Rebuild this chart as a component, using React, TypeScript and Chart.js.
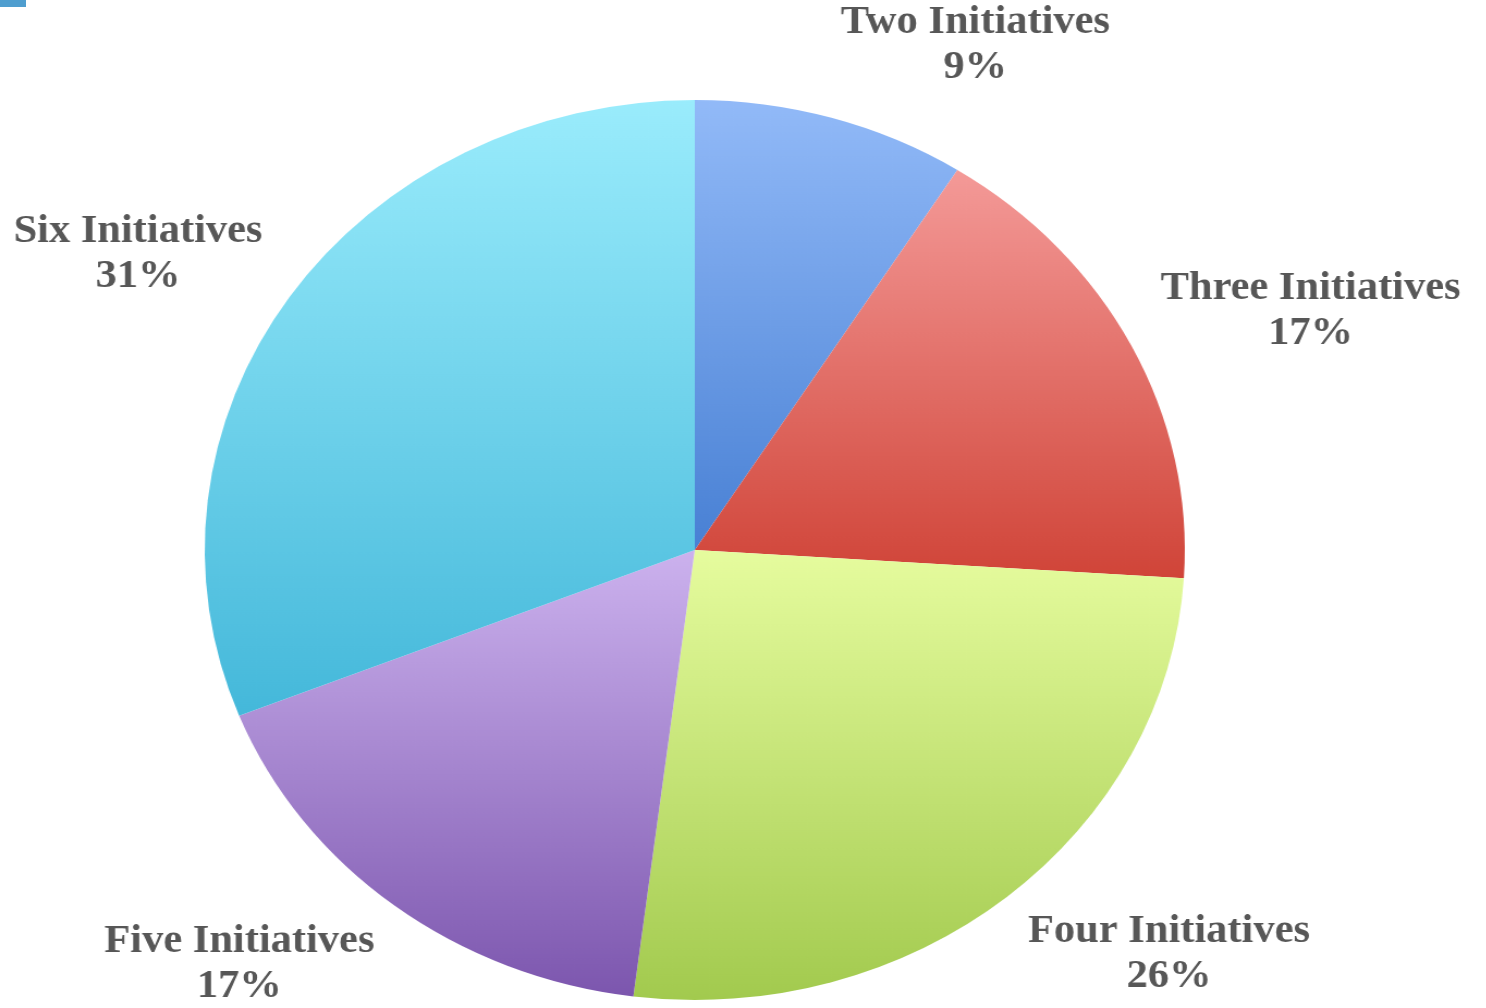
import React, { useEffect, useRef } from 'react';
import { Chart, registerables } from 'chart.js';

Chart.register(...registerables);

const categories = ['Two Initiatives', 'Three Initiatives', 'Four Initiatives', 'Five Initiatives', 'Six Initiatives'];
const shares = [9, 17, 26, 17, 31];
const percentLabels = ['9%', '17%', '26%', '17%', '31%'];
const topColors = ['#92baf8', '#f49a98', '#e6fc9e', '#ccb2ee', '#9aecfc'];
const bottomColors = ['#4880d4', '#d04438', '#a2ca4e', '#7c56ae', '#44b8da'];

const CANVAS_W = 1365;
const CANVAS_H = 1008;
const STRETCH_X = 1.089;

function sliceGradient(ctx: any) {
  const chart = ctx.chart;
  const area = chart.chartArea;
  const i = ctx.dataIndex;
  if (!area || i === undefined) return topColors[i ?? 0];
  const cx = (area.left + area.right) / 2;
  const cy = (area.top + area.bottom) / 2;
  const r = Math.min(area.right - area.left, area.bottom - area.top) / 2;
  const total = shares.reduce((a, b) => a + b, 0);
  let cum = 0;
  for (let k = 0; k < i; k++) cum += shares[k];
  const a0 = -Math.PI / 2 + (cum / total) * Math.PI * 2;
  const a1 = a0 + (shares[i] / total) * Math.PI * 2;
  let minY = cy;
  let maxY = cy;
  const steps = 60;
  for (let s = 0; s <= steps; s++) {
    const a = a0 + ((a1 - a0) * s) / steps;
    const y = cy + r * Math.sin(a);
    if (y < minY) minY = y;
    if (y > maxY) maxY = y;
  }
  const g = chart.ctx.createLinearGradient(0, minY, 0, maxY);
  g.addColorStop(0, topColors[i]);
  g.addColorStop(1, bottomColors[i]);
  return g;
}

const outsideLabels = {
  id: 'outsideLabels',
  afterDatasetsDraw(chart: any) {
    const ctx = chart.ctx;
    const meta = chart.getDatasetMeta(0);
    const pad = 30;
    const lineH = 45;
    ctx.save();
    ctx.font = 'bold 39px "Liberation Serif", "Times New Roman", serif';
    ctx.fillStyle = '#575757';
    ctx.textAlign = 'center';
    ctx.textBaseline = 'middle';
    meta.data.forEach((arc: any, i: number) => {
      const p = arc.getProps(['x', 'y', 'startAngle', 'endAngle', 'outerRadius'], true);
      const mid = (p.startAngle + p.endAngle) / 2;
      const dx = Math.cos(mid);
      const dy = Math.sin(mid);
      const ax = p.x + (p.outerRadius + pad) * dx;
      const ay = p.y + (p.outerRadius + pad) * dy;
      const lines = [categories[i], percentLabels[i]];
      const w = Math.max(...lines.map((t) => ctx.measureText(t).width));
      const h = lineH * lines.length;
      const left = dx >= 0 ? ax : ax - w;
      const centerY = ay + (dy * h) / 2;
      const top = centerY - h / 2;
      lines.forEach((t, j) => {
        ctx.fillText(t, left + w / 2, top + lineH / 2 + j * lineH);
      });
    });
    ctx.restore();
  },
};

export default function App() {
  const canvasRef = useRef<HTMLCanvasElement | null>(null);

  useEffect(() => {
    document.body.style.margin = '0';
    document.body.style.overflow = 'hidden';
    const canvas = canvasRef.current;
    if (!canvas) return;
    const chart = new Chart(canvas, {
      type: 'pie',
      data: {
        labels: categories,
        datasets: [
          {
            data: shares,
            backgroundColor: sliceGradient as any,
            borderWidth: 0,
          },
        ],
      },
      options: {
        animation: false,
        responsive: false,
        maintainAspectRatio: false,
        layout: { padding: { left: 188, right: 277, top: 100, bottom: 8 } },
        plugins: {
          legend: { display: false },
          tooltip: { enabled: false },
        },
      },
      plugins: [outsideLabels],
    });
    return () => chart.destroy();
  }, []);

  return (
    <div style={{ position: 'relative', width: 1486, height: 1008, overflow: 'hidden', background: '#ffffff' }}>
      <div style={{ position: 'absolute', left: 0, top: 0, width: 26, height: 7, background: '#4f9ecf', zIndex: 2 }} />
      <div
        style={{
          position: 'absolute',
          left: 0,
          top: 0,
          width: CANVAS_W,
          height: CANVAS_H,
          transform: `scaleX(${STRETCH_X})`,
          transformOrigin: '0 0',
        }}
      >
        <canvas ref={canvasRef} width={CANVAS_W} height={CANVAS_H} style={{ width: CANVAS_W, height: CANVAS_H, display: 'block' }} />
      </div>
    </div>
  );
}
